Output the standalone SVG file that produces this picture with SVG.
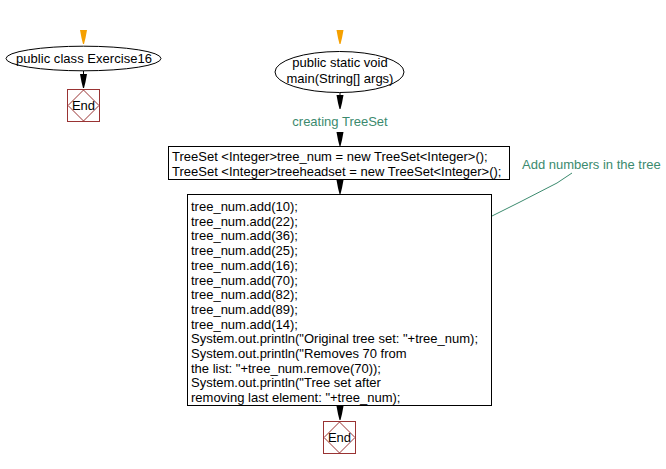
<svg xmlns="http://www.w3.org/2000/svg" width="666" height="469" viewBox="0 0 666 469">
<defs>
<style>
text{font-family:"Liberation Sans",Arial,sans-serif;font-size:13px;fill:#000}
.c{text-anchor:middle}
.cm{fill:#3b8a6e}
.box{fill:#fff;stroke:#000;stroke-width:1}
.endb{fill:#fff;stroke:#993333;stroke-width:1}
.dia{fill:none;stroke:#993333;stroke-width:1}
.ln{stroke:#000;stroke-width:1;fill:none}
.cl{stroke:#3b8a6e;stroke-width:1;fill:none}
</style>
<path id="ah" d="M-3.5,0 L3.5,0 L2,8 L0.5,14 L-0.5,14 L-2,8 Z"/>
</defs>
<rect width="666" height="469" fill="#fff"/>
<g id="connectors">
<use href="#ah" x="83.5" y="30" fill="#f5a000"/>
<line class="ln" x1="83.5" y1="70" x2="83.5" y2="75"/>
<use href="#ah" x="83.5" y="74" fill="#000"/>
<use href="#ah" x="340" y="30" fill="#f5a000"/>
<line class="ln" x1="340" y1="92" x2="340" y2="96"/>
<use href="#ah" x="340" y="95" fill="#000"/>
<use href="#ah" x="340" y="132" fill="#000"/>
<line class="ln" x1="340" y1="179" x2="340" y2="181"/>
<use href="#ah" x="340" y="180" fill="#000"/>
<line class="ln" x1="340" y1="405" x2="340" y2="407"/>
<use href="#ah" x="340" y="406" fill="#000"/>
<polyline class="cl" points="492,216 520,202 557,183 572,173"/>
</g>
<g id="class">
<ellipse class="box" cx="83.5" cy="58.5" rx="77.5" ry="12.3"/>
<text class="c" x="84" y="63" textLength="136">public class Exercise16</text>
</g>
<g id="end1">
<rect class="endb" x="67.5" y="89.5" width="32" height="32"/>
<polygon class="dia" points="83.5,90 99,105.5 83.5,121 68,105.5"/>
<text class="c" x="83.5" y="110">End</text>
</g>
<g id="main">
<ellipse class="box" cx="339.5" cy="72" rx="64.5" ry="20.5"/>
<text class="c" x="340" y="67">public static void</text>
<text class="c" x="340" y="83">main(String[] args)</text>
</g>
<g id="label">
<text class="c cm" x="340" y="126">creating TreeSet</text>
</g>
<g id="decl">
<rect class="box" x="168.5" y="146.5" width="341" height="33"/>
<text x="172" y="161">TreeSet &lt;Integer&gt;tree_num = new TreeSet&lt;Integer&gt;();</text>
<text x="172" y="176">TreeSet &lt;Integer&gt;treeheadset = new TreeSet&lt;Integer&gt;();</text>
</g>
<g id="body">
<rect class="box" x="187.5" y="194.5" width="304" height="211"/>
<text x="191" y="211">tree_num.add(10);</text>
<text x="191" y="225.7">tree_num.add(22);</text>
<text x="191" y="240.4">tree_num.add(36);</text>
<text x="191" y="255.1">tree_num.add(25);</text>
<text x="191" y="269.8">tree_num.add(16);</text>
<text x="191" y="284.5">tree_num.add(70);</text>
<text x="191" y="299.2">tree_num.add(82);</text>
<text x="191" y="313.9">tree_num.add(89);</text>
<text x="191" y="328.6">tree_num.add(14);</text>
<text x="191" y="343.3">System.out.println("Original tree set: "+tree_num);</text>
<text x="191" y="358">System.out.println("Removes 70 from</text>
<text x="191" y="372.7">the list: "+tree_num.remove(70));</text>
<text x="191" y="387.4">System.out.println("Tree set after</text>
<text x="191" y="402.1">removing last element: "+tree_num);</text>
</g>
<g id="comment">
<text class="cm" x="522" y="169">Add numbers in the tree</text>
</g>
<g id="end2">
<rect class="endb" x="323.5" y="421.5" width="32" height="32"/>
<polygon class="dia" points="339.5,422 355,437.5 339.5,453 324,437.5"/>
<text class="c" x="339.5" y="442">End</text>
</g>
</svg>
